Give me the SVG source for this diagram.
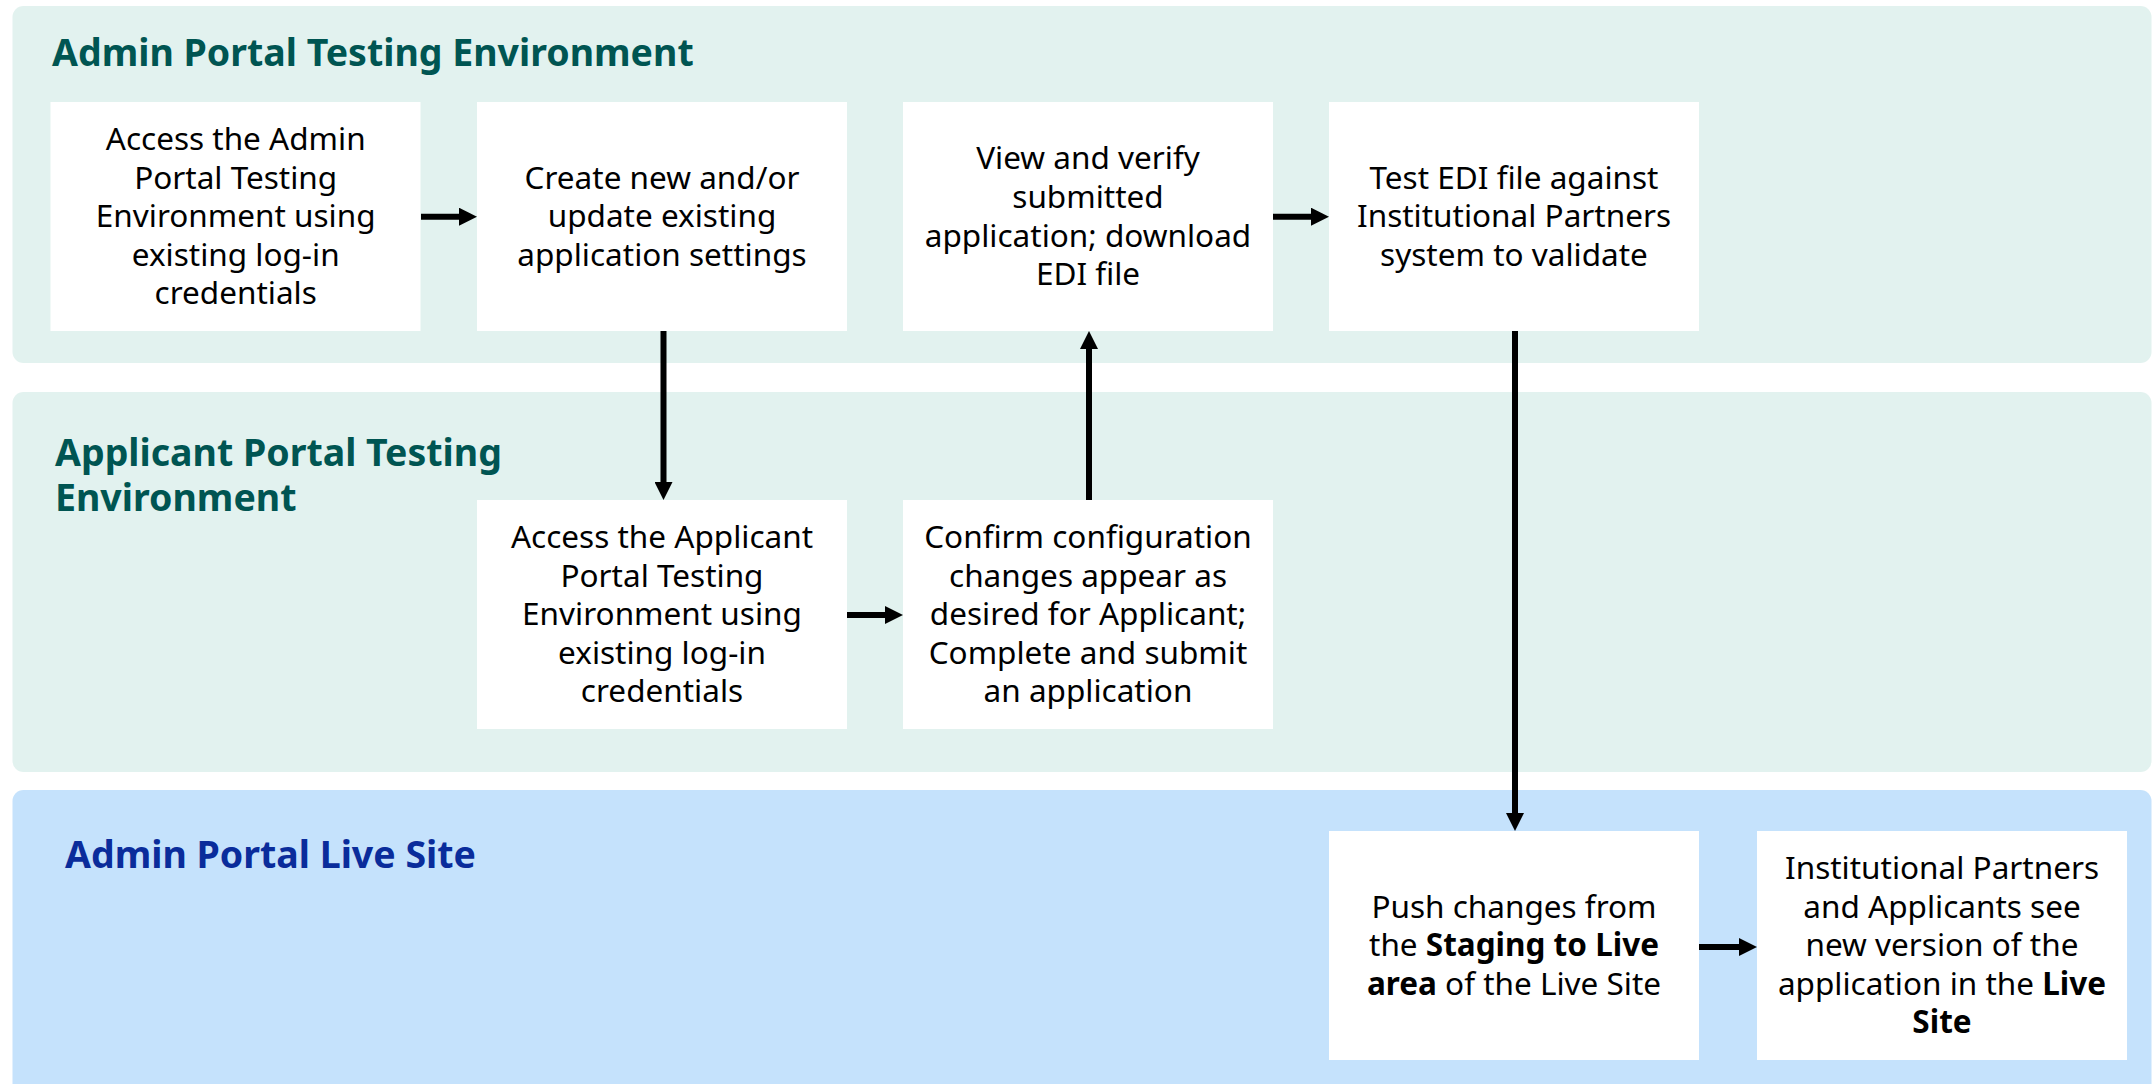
<svg xmlns="http://www.w3.org/2000/svg" width="2152" height="1084" viewBox="0 0 2152 1084">
<defs>
<style>
.lane-g{fill:#E2F2EF}
.lane-b{fill:#C5E2FC}
.title{font-family:"Noto Sans","Open Sans",sans-serif;font-weight:bold;font-size:37.5px}
.t-teal{fill:#005552}
.t-blue{fill:#0A2C9B}
.box{fill:#FFFFFF}
.txt{font-family:"Noto Sans","Open Sans",sans-serif;font-size:31.5px;fill:#000;text-anchor:middle}
.b{font-weight:bold}
.conn{stroke:#000;stroke-width:6;fill:none}
</style>
<marker id="ah" markerUnits="userSpaceOnUse" markerWidth="18" markerHeight="18" refX="1" refY="9" orient="auto">
<path d="M0,0 L18,9 L0,18 Z" fill="#000"/>
</marker>
</defs>
<rect width="2152" height="1084" fill="#FFFFFF"/>
<g id="lanes">
<g id="lane-admin-testing">
<rect class="lane-g" x="12.5" y="6" width="2139" height="357" rx="11"/>
<text class="title t-teal" x="52" y="65.7">Admin Portal Testing Environment</text>
</g>
<g id="lane-applicant-testing">
<rect class="lane-g" x="12.5" y="392" width="2139" height="380" rx="11"/>
<text class="title t-teal" x="55" y="465.7">Applicant Portal Testing</text>
<text class="title t-teal" x="55" y="510.7">Environment</text>
</g>
<g id="lane-live">
<rect class="lane-b" x="12.5" y="790" width="2139" height="310" rx="11"/>
<text class="title t-blue" x="65" y="867.7">Admin Portal Live Site</text>
</g>
</g>
<g id="node1">
<rect class="box" x="50.5" y="102" width="370" height="229"/>
<text class="txt"><tspan x="235.7" y="150">Access the Admin</tspan><tspan x="235.7" y="188.6">Portal Testing</tspan><tspan x="235.7" y="227.2">Environment using</tspan><tspan x="235.7" y="265.8">existing log-in</tspan><tspan x="235.7" y="304.4">credentials</tspan></text>
</g>
<g id="node2">
<rect class="box" x="477" y="102" width="370" height="229"/>
<text class="txt"><tspan x="662" y="188.6">Create new and/or</tspan><tspan x="662" y="227.2">update existing</tspan><tspan x="662" y="265.8">application settings</tspan></text>
</g>
<g id="node3">
<rect class="box" x="903" y="102" width="370" height="229"/>
<text class="txt"><tspan x="1088" y="169.3">View and verify</tspan><tspan x="1088" y="207.9">submitted</tspan><tspan x="1088" y="246.5">application; download</tspan><tspan x="1088" y="285.1">EDI file</tspan></text>
</g>
<g id="node4">
<rect class="box" x="1329" y="102" width="370" height="229"/>
<text class="txt"><tspan x="1514" y="188.6">Test EDI file against</tspan><tspan x="1514" y="227.2">Institutional Partners</tspan><tspan x="1514" y="265.8">system to validate</tspan></text>
</g>
<g id="node5">
<rect class="box" x="477" y="500" width="370" height="229"/>
<text class="txt"><tspan x="662" y="548">Access the Applicant</tspan><tspan x="662" y="586.6">Portal Testing</tspan><tspan x="662" y="625.2">Environment using</tspan><tspan x="662" y="663.8">existing log-in</tspan><tspan x="662" y="702.4">credentials</tspan></text>
</g>
<g id="node6">
<rect class="box" x="903" y="500" width="370" height="229"/>
<text class="txt"><tspan x="1088" y="548">Confirm configuration</tspan><tspan x="1088" y="586.6">changes appear as</tspan><tspan x="1088" y="625.2">desired for Applicant;</tspan><tspan x="1088" y="663.8">Complete and submit</tspan><tspan x="1088" y="702.4">an application</tspan></text>
</g>
<g id="node7">
<rect class="box" x="1329" y="831" width="370" height="229"/>
<text class="txt"><tspan x="1514" y="917.5">Push changes from</tspan><tspan x="1514" y="956.1">the <tspan class="b">Staging to Live</tspan></tspan><tspan x="1514" y="994.7"><tspan class="b">area</tspan> of the Live Site</tspan></text>
</g>
<g id="node8">
<rect class="box" x="1757" y="831" width="370" height="229"/>
<text class="txt"><tspan x="1942" y="879">Institutional Partners</tspan><tspan x="1942" y="917.6">and Applicants see</tspan><tspan x="1942" y="956.2">new version of the</tspan><tspan x="1942" y="994.8">application in the <tspan class="b">Live</tspan></tspan><tspan class="b" x="1942" y="1033.4">Site</tspan></text>
</g>
<g id="connectors">
<line class="conn" x1="421" y1="216.7" x2="460" y2="216.7" marker-end="url(#ah)"/>
<line class="conn" x1="1273" y1="216.7" x2="1312" y2="216.7" marker-end="url(#ah)"/>
<line class="conn" x1="663.5" y1="331" x2="663.5" y2="483" marker-end="url(#ah)"/>
<line class="conn" x1="1089" y1="500" x2="1089" y2="348" marker-end="url(#ah)"/>
<line class="conn" x1="847" y1="615" x2="886" y2="615" marker-end="url(#ah)"/>
<line class="conn" x1="1515" y1="331" x2="1515" y2="814" marker-end="url(#ah)"/>
<line class="conn" x1="1699" y1="947" x2="1740" y2="947" marker-end="url(#ah)"/>
</g>
</svg>
